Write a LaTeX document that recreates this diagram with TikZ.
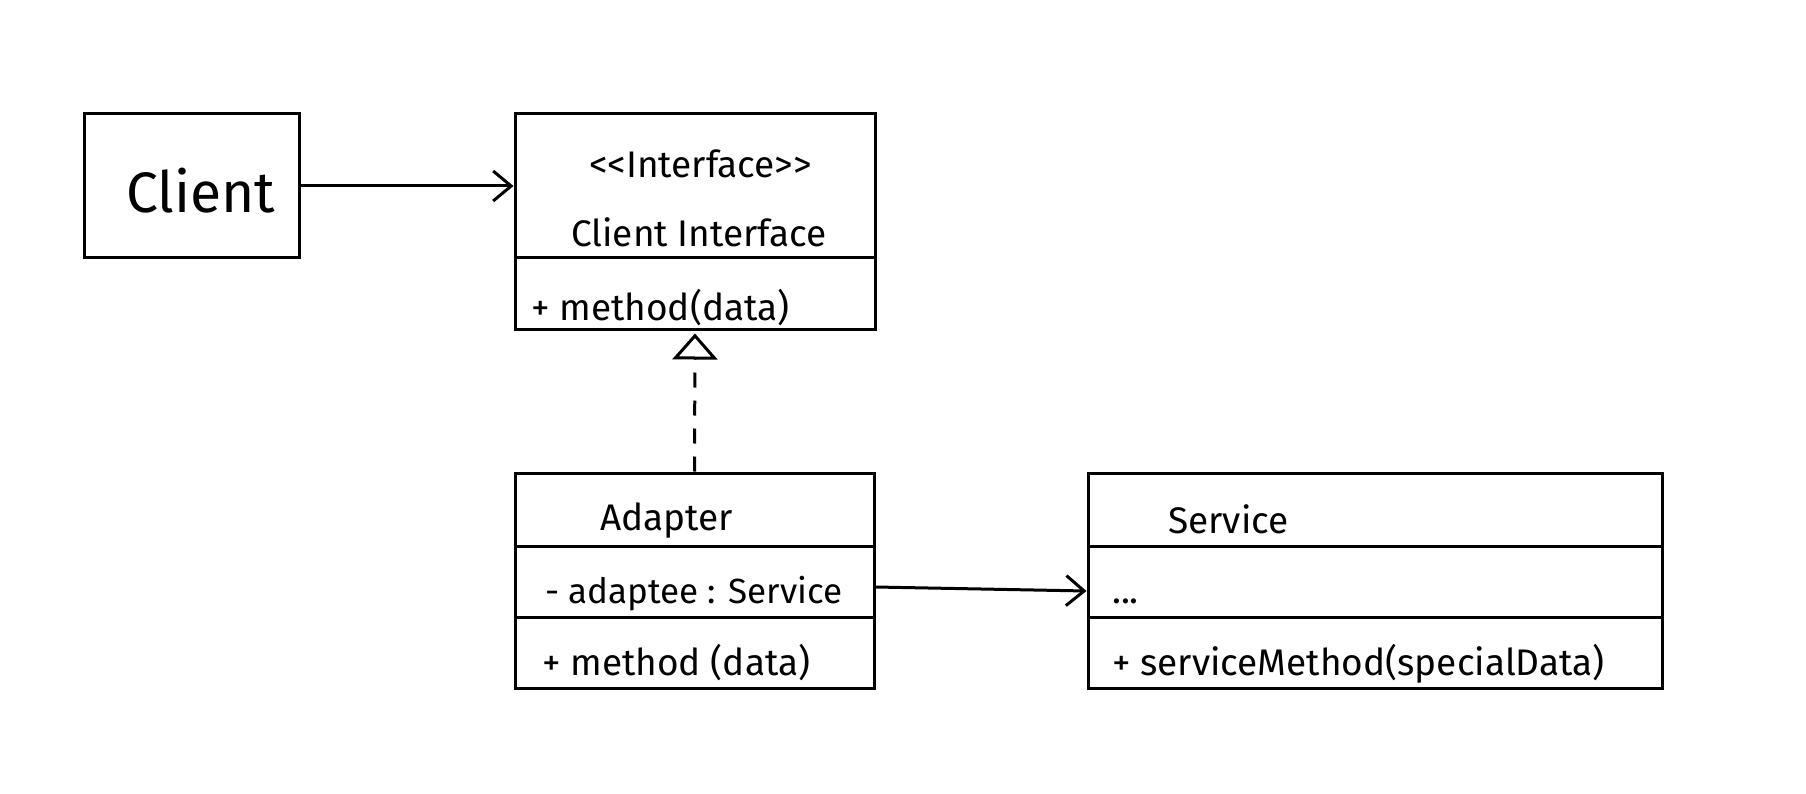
\documentclass[tikz,border=0pt]{standalone}
\usepackage{fontspec}
\setmainfont{Fira Sans}[Ligatures=NoCommon]
\usetikzlibrary{arrows.meta,calc}
\tikzset{
  box/.style={draw, line width=3pt, inner sep=0pt, fill=white},
  divider/.style={line width=3pt},
  txt/.style={anchor=base west, inner sep=0pt, font=\fontsize{37}{44}\selectfont},
  assoc/.style={line width=3pt, -{Straight Barb[length=18pt,width=30pt,line width=3pt]}},
  realize/.style={line width=3pt, dash pattern=on 15pt off 13pt, -{Triangle[open,length=26pt,width=45pt,line width=3pt,fill=white]}}
}
\begin{document}
\begin{tikzpicture}[x=1pt,y=-1pt]
\useasboundingbox (0,0) rectangle (1806,794);
\fill[white] (0,0) rectangle (1806,794);
% boxes
\node[box, minimum width=215pt, minimum height=144pt] (client) at (191.5,186) {};
\node[box, minimum width=360pt, minimum height=215pt] (iface) at (695,221.5) {};
\node[box, minimum width=359pt, minimum height=215pt] (adapter) at (694.5,580.5) {};
\node[box, minimum width=574pt, minimum height=215pt] (service) at (1375,580.5) {};
% dividers
\draw[divider] (iface.west |- 0,258) -- (iface.east |- 0,258);
\draw[divider] (adapter.west |- 0,546) -- (adapter.east |- 0,546);
\draw[divider] (adapter.west |- 0,617) -- (adapter.east |- 0,617);
\draw[divider] (service.west |- 0,546) -- (service.east |- 0,546);
\draw[divider] (service.west |- 0,617) -- (service.east |- 0,617);
% texts
\node[txt, font=\fontsize{57}{64}\selectfont] (tclient) at (126,213) {Client};
\node[txt] (tster) at (589,178) {{<}{<}Interface{>}{>}};
\node[txt] (tci) at (571,247) {Client Interface};
\node[txt] (tim) at (531,320) {+ method(data)};
\node[txt] (tad) at (600,530) {Adapter};
\node[txt, font=\fontsize{35}{42}\selectfont] (tadf) at (545,603) {- adaptee : Service};
\node[txt] (tadm) at (542,675) {+ method (data)};
\node[txt] (tsv) at (1168,533) {Service};
\node[txt] (tsvd) at (1112,603) {...};
\node[txt] (tsvm) at (1112,675) {+ serviceMethod(specialData)};
% connectors
\draw[assoc] (client.east) -- (iface.west |- client.east);
\draw[realize, shorten >=3pt] (adapter.north) -- (iface.south);
\draw[assoc] ([yshift=-6.5pt]adapter.east) -- ([yshift=-10.5pt]service.west);
\end{tikzpicture}
\end{document}
